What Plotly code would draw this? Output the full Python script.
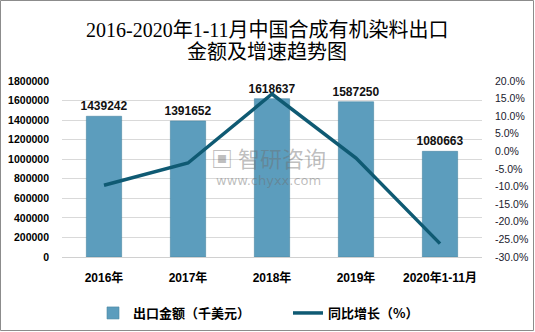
import plotly.graph_objects as go

categories = ["2016年", "2017年", "2018年", "2019年", "2020年1-11月"]
export_values = [1439242, 1391652, 1618637, 1587250, 1080663]
growth_pct = [-9.6, -3.3, 16.3, -1.9, -26.2]
left_ticks = [0, 200000, 400000, 600000, 800000, 1000000, 1200000, 1400000, 1600000, 1800000]
right_ticks = [-30, -25, -20, -15, -10, -5, 0, 5, 10, 15, 20]
title_lines = ["2016-2020年1-11月中国合成有机染料出口", "金额及增速趋势图"]

W, H = 535, 332
ML, MR, MT, MB = 62, 53, 81, 75
pw, ph = W - ML - MR, H - MT - MB


def py(y_px):
    return 1 - (y_px - MT) / ph


def px(x_px):
    return (x_px - ML) / pw


fig = go.Figure()
fig.add_trace(go.Bar(
    x=categories, y=export_values, name="出口金额（千美元）",
    marker=dict(color="#5c9dbd", line=dict(color="#4a86a3", width=0.6)),
    width=0.42,
    text=[str(v) for v in export_values], textposition="outside",
    constraintext="none",
    textfont=dict(family="Liberation Sans, Arial", size=12, color="#111", weight="bold"),
    cliponaxis=False,
))
fig.add_trace(go.Scatter(
    x=categories, y=growth_pct, name="同比增长（%）", yaxis="y2",
    mode="lines", line=dict(color="#0f5a73", width=3.5),
))

fig.update_layout(
    width=W, height=H,
    margin=dict(l=ML, r=MR, t=MT, b=MB, autoexpand=False),
    paper_bgcolor="white", plot_bgcolor="white",
    xaxis=dict(
        showgrid=False, showline=True, linecolor="#d0d0d0", linewidth=1,
        ticks="", ticklabelstandoff=10, automargin=False,
        tickfont=dict(family="Liberation Sans, Noto Sans CJK SC", size=12, color="#000", weight="bold"),
    ),
    yaxis=dict(
        range=[0, 1800000], tickvals=left_ticks, ticktext=[str(v) for v in left_ticks],
        showgrid=True, gridcolor="#d9d9d9", gridwidth=1, zeroline=False,
        showline=False, ticks="", ticklabelstandoff=12, automargin=False,
        tickfont=dict(family="Liberation Sans, Arial", size=10.5, color="#000", weight="bold"),
    ),
    yaxis2=dict(
        range=[-30, 20], tickvals=right_ticks, ticktext=[f"{v:.1f}%" for v in right_ticks],
        overlaying="y", side="right", showgrid=False, zeroline=False, showline=False,
        ticks="", ticklabelstandoff=12, automargin=False,
        tickfont=dict(family="Liberation Sans, Arial", size=10.5, color="#1a1a2e"),
    ),
    legend=dict(
        orientation="h", x=px(288), xanchor="center", y=py(298), yanchor="top",
        font=dict(family="Noto Sans CJK SC", size=13, color="#000", weight="bold"),
        traceorder="normal", itemwidth=30, entrywidth=150, entrywidthmode="pixels",
    ),
    bargap=0.58,
    showlegend=True,
)

# title lines
for i, line in enumerate(title_lines):
    fig.add_annotation(text=line, xref="paper", yref="paper",
                       x=px(267), y=py(30 + 22 * i), xanchor="center", yanchor="middle",
                       showarrow=False,
                       font=dict(family="Liberation Serif, Noto Sans CJK SC", size=20, color="#000"))

# outer border
fig.add_shape(type="rect", xref="paper", yref="paper",
              x0=px(0.5), x1=px(W - 1.5), y0=py(H - 1.5), y1=py(0.5),
              line=dict(color="#8c8c8c", width=1), fillcolor="rgba(0,0,0,0)", layer="above")

# watermark
fig.add_annotation(text="<b>▣</b> 智研咨询", xref="paper", yref="paper",
                   x=px(268), y=py(157), showarrow=False,
                   font=dict(family="Noto Sans CJK SC", size=22, color="rgba(110,110,110,0.45)"))
fig.add_annotation(text="www.chyxx.com", xref="paper", yref="paper",
                   x=px(268), y=py(180), showarrow=False,
                   font=dict(family="DejaVu Sans", size=13, color="rgba(110,110,110,0.45)"))

fig.write_html("out.html")
